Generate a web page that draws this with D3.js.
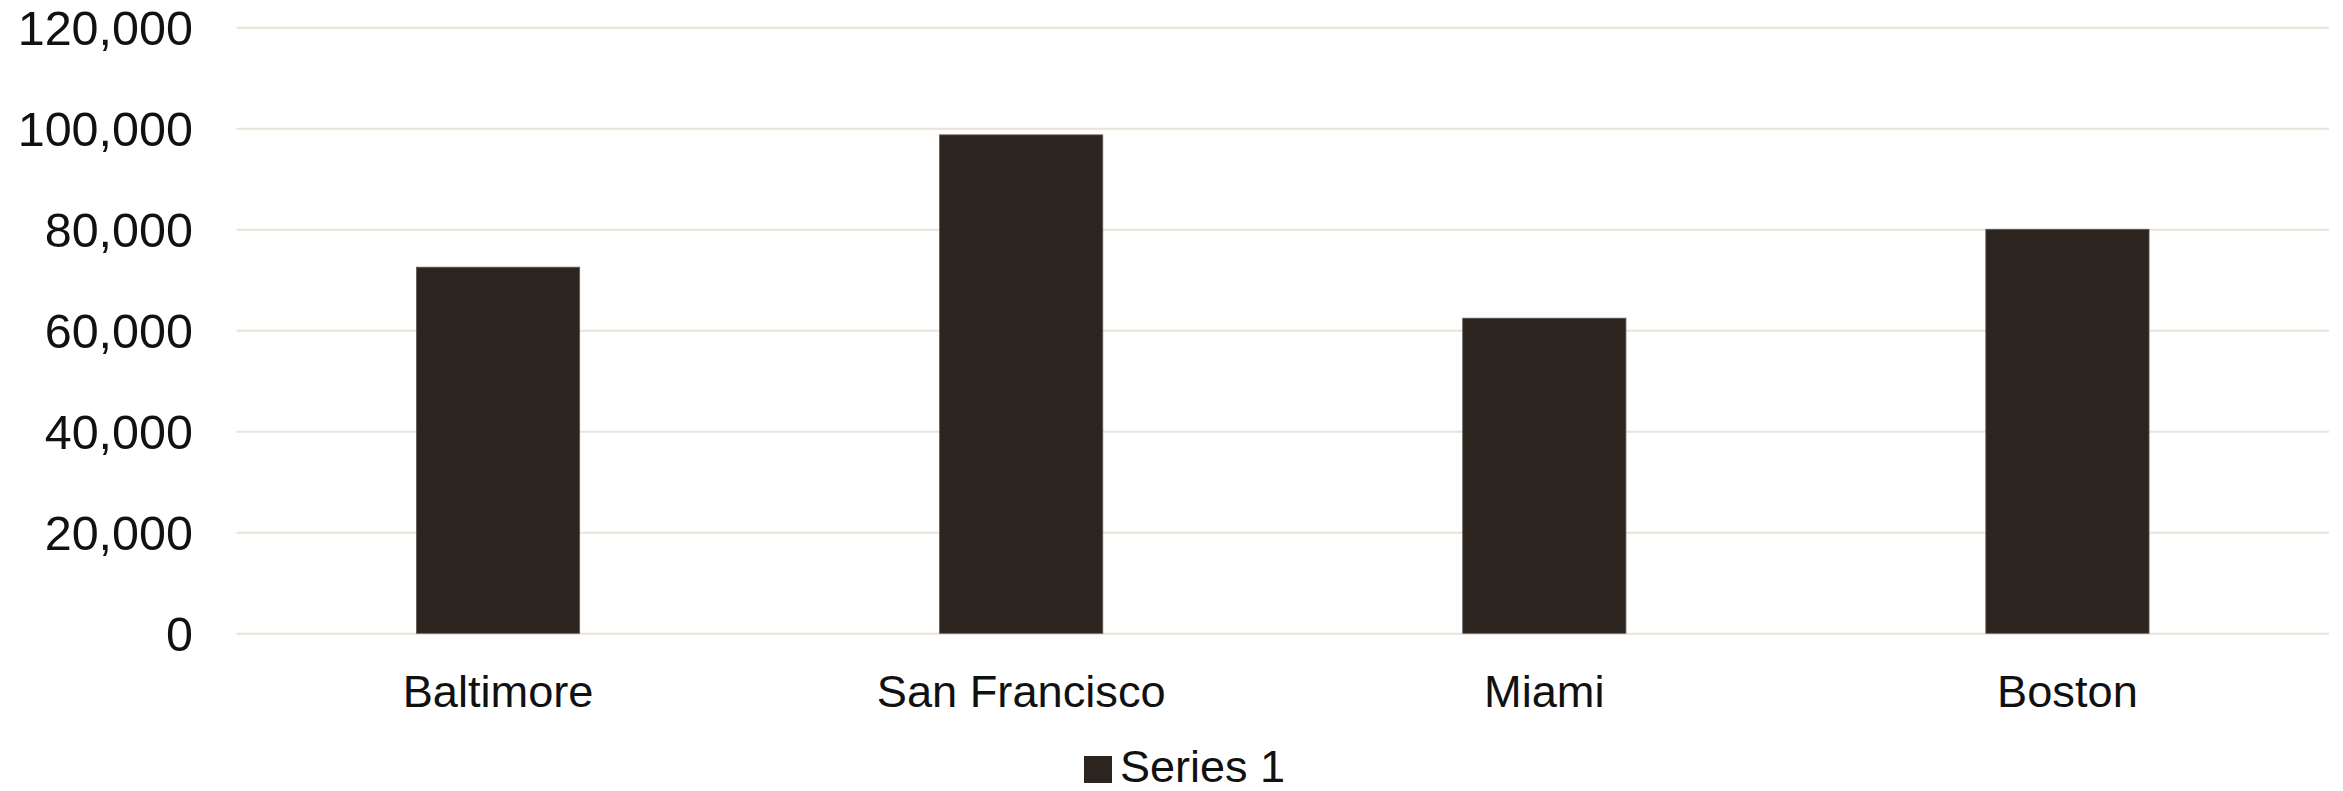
<!DOCTYPE html>
<html>
<head>
<meta charset="utf-8">
<script src="https://cdn.jsdelivr.net/npm/d3@7"></script>
<style>
  html, body { margin: 0; padding: 0; background: #ffffff; }
  svg { display: block; }
  .tick text { font-family: "Liberation Sans", Arial, sans-serif; fill: #111111; }
</style>
</head>
<body>
<svg id="chart" width="2343" height="791"></svg>
<script>
const categories = ["Baltimore", "San Francisco", "Miami", "Boston"];
const series1 = [72500, 98700, 62400, 80000];
const seriesName = "Series 1";
const yTicks = [0, 20000, 40000, 60000, 80000, 100000, 120000];

const plotLeft = 236.5, plotRight = 2329, plotTop = 27.3, plotBottom = 633.3;
const svg = d3.select("#chart");

const x = d3.scaleBand().domain(categories).range([plotLeft, plotRight])
  .paddingInner(0.688).paddingOuter(0.344);
const y = d3.scaleLinear().domain([0, 120000]).range([plotBottom, plotTop]);

// gridlines
const grid = svg.append("g").attr("transform", `translate(${plotLeft},0)`)
  .call(d3.axisLeft(y).tickValues(yTicks).tickSize(-(plotRight - plotLeft)).tickFormat(""));
grid.select(".domain").remove();
grid.selectAll(".tick line").attr("stroke", "#ebe2d8").attr("stroke-width", 2);

// y labels
const ya = svg.append("g").attr("transform", `translate(193,0)`)
  .call(d3.axisLeft(y).tickValues(yTicks).tickSize(0).tickPadding(0).tickFormat(d3.format(",")));
ya.select(".domain").remove();
ya.selectAll(".tick text").attr("font-size", 48.5).attr("dy", "0.35em").attr("text-anchor", "end");

// bars
svg.append("g").selectAll("rect").data(series1).join("rect")
  .attr("x", (d, i) => x(categories[i]))
  .attr("y", d => y(d))
  .attr("width", x.bandwidth())
  .attr("height", d => y(0) - y(d))
  .attr("fill", "#2c241f")
  .attr("stroke", "#5f5954")
  .attr("stroke-width", 0.8);

// x labels
const xa = svg.append("g").attr("transform", `translate(0,${plotBottom})`)
  .call(d3.axisBottom(x).tickSize(0).tickPadding(0));
xa.select(".domain").remove();
xa.selectAll(".tick text").attr("font-size", 45.2).attr("dy", 0).attr("y", 73.5);

// legend
const lg = svg.append("g");
lg.append("rect").attr("x", 1084).attr("y", 756).attr("width", 28).attr("height", 27).attr("fill", "#2c241f");
lg.append("text").attr("x", 1120).attr("y", 782)
  .attr("font-family", '"Liberation Sans", Arial, sans-serif')
  .attr("font-size", 45).attr("fill", "#111111").text(seriesName);
</script>
</body>
</html>
